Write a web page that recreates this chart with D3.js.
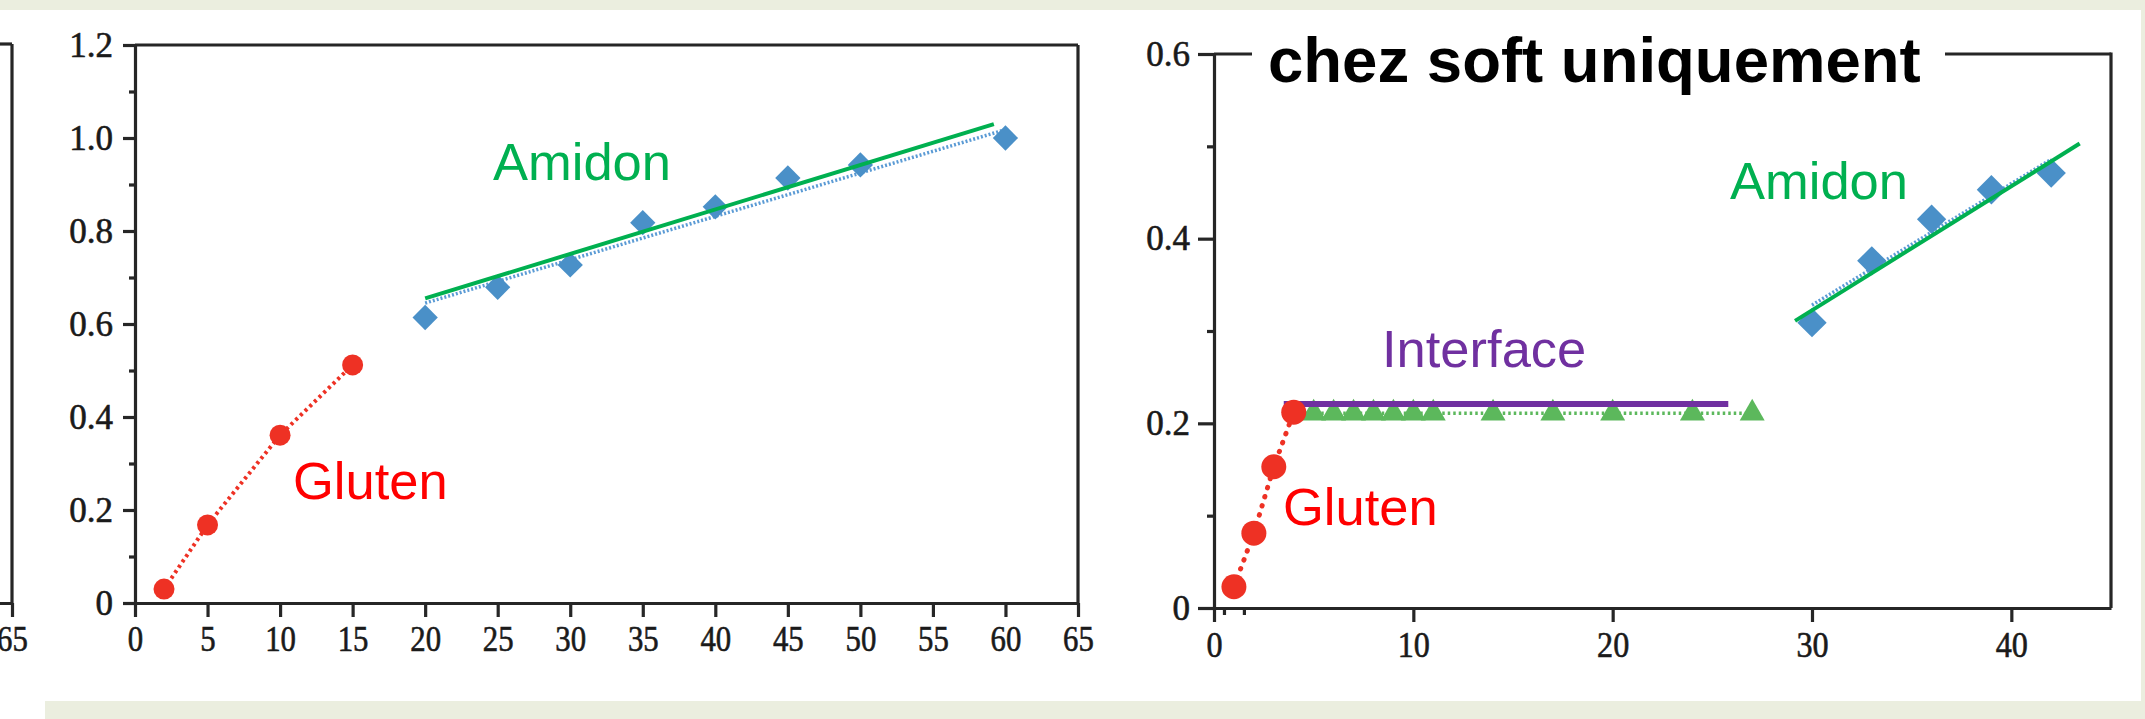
<!DOCTYPE html>
<html><head><meta charset="utf-8">
<script src="https://cdn.jsdelivr.net/npm/d3@7"></script>
<style>
body{margin:0;background:#fff;}
svg{display:block;}
.tick text{font-family:"Liberation Serif","Times New Roman",serif;fill:#1a1a1a;stroke:#1a1a1a;stroke-width:0.6px;}
</style>
</head><body>
<svg id="chart" width="2145" height="719"></svg>
<script>
// ---------- data ----------
// middle panel
const midXTicks = [0,5,10,15,20,25,30,35,40,45,50,55,60,65];
const midYTicks = [0,0.2,0.4,0.6,0.8,1.0,1.2];
const midYLabels = ["0","0.2","0.4","0.6","0.8","1.0","1.2"];
const midYMinor = [0.1,0.3,0.5,0.7,0.9,1.1];
const midGlutenX = [2,5,10,15];
const midGlutenY = [0.03,0.168,0.361,0.512];
const midAmidonX = [20,25,30,35,40,45,50,60];
const midAmidonY = [0.614,0.679,0.727,0.818,0.852,0.914,0.942,1.0];
const midAmidonFitX = [20,59.2];
const midAmidonFitY = [0.655,1.03];
const midAmidonTrendX = [20,60];
const midAmidonTrendY = [0.645,1.018];
// right panel
const rTitle = "chez soft uniquement";
const rXTicks = [0,10,20,30,40];
const rXMinor = [0.5,1.5];
const rYTicks = [0,0.2,0.4,0.6];
const rYLabels = ["0","0.2","0.4","0.6"];
const rYMinor = [0.1,0.3,0.5];
const rGlutenX = [1,2,3,4];
const rGlutenY = [0.023,0.081,0.153,0.212];
const rInterfaceX = [5,6,7,8,9,10,11,14,17,20,24,27];
const rInterfaceY = [0.211,0.211,0.211,0.211,0.211,0.211,0.211,0.211,0.211,0.211,0.211,0.211];
const rInterfaceFitX = [3.5,25.8];
const rInterfaceFitY = [0.221,0.221];
const rAmidonX = [30,33,36,39,42];
const rAmidonY = [0.309,0.376,0.421,0.453,0.471];
const rAmidonFitX = [29.15,43.43];
const rAmidonFitY = [0.311,0.503];
const rAmidonTrendX = [30,42];
const rAmidonTrendY = [0.328,0.486];
// left (cropped) panel
const leftXTicks = [65];

// ---------- styles ----------
const AXIS = "#262626";
const RED = "#ee3124", BLUE = "#4a90c8", BLUEDOT = "#5b9bd5", GREEN = "#00b050",
      TRI = "#5cb85c", PURPLE = "#7030a0", LABRED = "#ff0000";

const svg = d3.select("#chart");
svg.append("rect").attr("x",0).attr("y",0).attr("width",2145).attr("height",719).attr("fill","#fff");
svg.append("rect").attr("x",0).attr("y",0).attr("width",2145).attr("height",10).attr("fill","#ebeedf");
svg.append("rect").attr("x",2141).attr("y",0).attr("width",4).attr("height",719).attr("fill","#ebeedf");
svg.append("rect").attr("x",45).attr("y",701).attr("width",2100).attr("height",18).attr("fill","#ebeedf");

function styleAxis(g, fs, sx, sy){
  g.attr("font-size",fs);
  g.selectAll("path.domain").attr("stroke",AXIS).attr("stroke-width",3.2);
  g.selectAll(".tick line").attr("stroke",AXIS).attr("stroke-width",3.2);
  const t = g.selectAll(".tick text").attr("font-size",fs).style("font-size",fs+"px");
  if (sx) t.attr("transform",`scale(${sx},${sy})`);
}

// ---------- left cropped panel ----------
const xL = d3.scaleLinear().domain([0,65]).range([12-943,12]);
const yL = d3.scaleLinear().domain([0,1.2]).range([603,44]);
svg.append("line").attr("x1",xL(65)).attr("x2",xL(65)).attr("y1",yL(1.2)).attr("y2",yL(0)).attr("stroke",AXIS).attr("stroke-width",3.2);
svg.append("line").attr("x1",-5).attr("x2",xL(65)).attr("y1",yL(1.2)).attr("y2",yL(1.2)).attr("stroke",AXIS).attr("stroke-width",3.2);
const gL = svg.append("g").attr("transform",`translate(0,${yL(0)})`)
  .call(d3.axisBottom(xL).tickValues(leftXTicks).tickSize(14).tickSizeOuter(0).tickPadding(7));
styleAxis(gL,35,0.88,1.05);

// ---------- middle panel ----------
const xM = d3.scaleLinear().domain([0,65]).range([135,1078]);
const yM = d3.scaleLinear().domain([0,1.2]).range([603,45]);
const gM = svg.append("g");
gM.append("line").attr("x1",xM(0)).attr("x2",xM(65)).attr("y1",yM(1.2)).attr("y2",yM(1.2)).attr("stroke",AXIS).attr("stroke-width",3.2);
gM.append("line").attr("x1",xM(65)).attr("x2",xM(65)).attr("y1",yM(1.2)).attr("y2",yM(0)).attr("stroke",AXIS).attr("stroke-width",3.2);
const gMx = gM.append("g").attr("transform",`translate(0,${yM(0)})`)
  .call(d3.axisBottom(xM).tickValues(midXTicks).tickSize(14).tickSizeOuter(0).tickPadding(7));
styleAxis(gMx,35,0.88,1.05);
const gMy = gM.append("g").attr("transform",`translate(${xM(0)},0)`)
  .call(d3.axisLeft(yM).tickValues(midYTicks).tickFormat((d,i)=>midYLabels[i]).tickSize(12).tickSizeOuter(0).tickPadding(10));
styleAxis(gMy,35);
const gMym = gM.append("g").attr("transform",`translate(${xM(0)},0)`)
  .call(d3.axisLeft(yM).tickValues(midYMinor).tickFormat("").tickSize(6).tickSizeOuter(0));
styleAxis(gMym,35);
gMym.select("path.domain").remove();

const line = d3.line();
gM.append("path").attr("d",line(midGlutenX.map((x,i)=>[xM(x),yM(midGlutenY[i])])))
  .attr("fill","none").attr("stroke",RED).attr("stroke-width",4).attr("stroke-dasharray","3,3.5");
gM.append("path").attr("d",line(midAmidonTrendX.map((x,i)=>[xM(x),yM(midAmidonTrendY[i])])))
  .attr("fill","none").attr("stroke",BLUEDOT).attr("stroke-width",3.5).attr("stroke-dasharray","2,2");
gM.selectAll("path.dm").data(midAmidonX).enter().append("path")
  .attr("d",d3.symbol(d3.symbolSquare,320)())
  .attr("transform",(d,i)=>`translate(${xM(d)},${yM(midAmidonY[i])}) rotate(45)`)
  .attr("fill",BLUE);
gM.append("path").attr("d",line(midAmidonFitX.map((x,i)=>[xM(x),yM(midAmidonFitY[i])])))
  .attr("fill","none").attr("stroke",GREEN).attr("stroke-width",4);
gM.selectAll("circle.gm").data(midGlutenX).enter().append("circle")
  .attr("cx",d=>xM(d)).attr("cy",(d,i)=>yM(midGlutenY[i])).attr("r",10.5).attr("fill",RED);
gM.append("text").attr("x",493).attr("y",180).text("Amidon")
  .attr("font-family","Liberation Sans, Arial, sans-serif").attr("font-size",52.5).attr("fill",GREEN);
gM.append("text").attr("x",293).attr("y",499).text("Gluten")
  .attr("font-family","Liberation Sans, Arial, sans-serif").attr("font-size",52.5).attr("fill",LABRED);

// ---------- right panel ----------
const xR = d3.scaleLinear().domain([0,45]).range([1214,2111]);
const yR = d3.scaleLinear().domain([0,0.6]).range([608,54]);
const gR = svg.append("g");
gR.append("line").attr("x1",xR(0)).attr("x2",xR(45)).attr("y1",yR(0.6)).attr("y2",yR(0.6)).attr("stroke",AXIS).attr("stroke-width",3.2);
gR.append("line").attr("x1",xR(45)).attr("x2",xR(45)).attr("y1",yR(0.6)-1.6).attr("y2",yR(0)).attr("stroke",AXIS).attr("stroke-width",3.2);
const gRx = gR.append("g").attr("transform",`translate(0,${yR(0)})`)
  .call(d3.axisBottom(xR).tickValues(rXTicks).tickSize(14).tickSizeOuter(0).tickPadding(8));
styleAxis(gRx,35,0.92,1.05);
const gRxm = gR.append("g").attr("transform",`translate(0,${yR(0)})`)
  .call(d3.axisBottom(xR).tickValues(rXMinor).tickFormat("").tickSize(7).tickSizeOuter(0));
styleAxis(gRxm,35);
gRxm.select("path.domain").remove();
const gRy = gR.append("g").attr("transform",`translate(${xR(0)},0)`)
  .call(d3.axisLeft(yR).tickValues(rYTicks).tickFormat((d,i)=>rYLabels[i]).tickSize(16).tickSizeOuter(0).tickPadding(8));
styleAxis(gRy,35);
const gRym = gR.append("g").attr("transform",`translate(${xR(0)},0)`)
  .call(d3.axisLeft(yR).tickValues(rYMinor).tickFormat("").tickSize(7).tickSizeOuter(0));
styleAxis(gRym,35);
gRym.select("path.domain").remove();

gR.append("rect").attr("x",1252).attr("y",30).attr("width",693).attr("height",50).attr("fill","#fff");
gR.append("text").attr("x",1268).attr("y",82).text(rTitle)
  .attr("font-family","Liberation Sans, Arial, sans-serif").attr("font-weight","bold").attr("font-size",63.5).attr("fill","#000");

gR.append("path").attr("d",line(rGlutenX.map((x,i)=>[xR(x),yR(rGlutenY[i])])))
  .attr("fill","none").attr("stroke",RED).attr("stroke-width",5).attr("stroke-linecap","round").attr("stroke-dasharray","0.5,9");
gR.append("path").attr("d",line([[xR(rGlutenX[3]),yR(rInterfaceY[0])]].concat(rInterfaceX.map((x,i)=>[xR(x),yR(rInterfaceY[i])]))))
  .attr("fill","none").attr("stroke",TRI).attr("stroke-width",3.5).attr("stroke-dasharray","2.5,3");
gR.selectAll("path.tri").data(rInterfaceX).enter().append("path")
  .attr("d",d3.symbol(d3.symbolTriangle,270)())
  .attr("transform",(d,i)=>`translate(${xR(d)},${yR(rInterfaceY[i])})`)
  .attr("fill",TRI);
gR.append("path").attr("d",line(rInterfaceFitX.map((x,i)=>[xR(x),yR(rInterfaceFitY[i])])))
  .attr("fill","none").attr("stroke",PURPLE).attr("stroke-width",6);
gR.selectAll("circle.gr").data(rGlutenX).enter().append("circle")
  .attr("cx",d=>xR(d)).attr("cy",(d,i)=>yR(rGlutenY[i])).attr("r",12.5).attr("fill",RED);
gR.append("path").attr("d",line(rAmidonTrendX.map((x,i)=>[xR(x),yR(rAmidonTrendY[i])])))
  .attr("fill","none").attr("stroke",BLUEDOT).attr("stroke-width",3.5).attr("stroke-dasharray","2,2");
gR.selectAll("path.dr").data(rAmidonX).enter().append("path")
  .attr("d",d3.symbol(d3.symbolSquare,430)())
  .attr("transform",(d,i)=>`translate(${xR(d)},${yR(rAmidonY[i])}) rotate(45)`)
  .attr("fill",BLUE);
gR.append("path").attr("d",line(rAmidonFitX.map((x,i)=>[xR(x),yR(rAmidonFitY[i])])))
  .attr("fill","none").attr("stroke",GREEN).attr("stroke-width",4);
const lab = (t,x,y,c)=>gR.append("text").attr("x",x).attr("y",y).text(t)
  .attr("font-family","Liberation Sans, Arial, sans-serif").attr("font-size",52.5).attr("fill",c);
lab("Interface",1382,367,PURPLE);
lab("Amidon",1730,199,GREEN);
lab("Gluten",1283,525,LABRED);
</script>
</body></html>
